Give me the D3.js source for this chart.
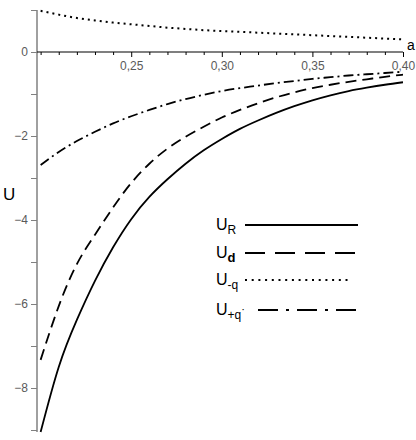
<!DOCTYPE html>
<html>
    <head>
        <script src="https://d3js.org/d3.v7.min.js"></script>
        <style>
            body { margin:0; background:white; font-family:"Liberation Sans", Arial, sans-serif; }
            svg { width:416px; height:440px; display:block; }
            .tickLabel { fill:#5a5a5a; font-size:12px; }
        </style>
    </head>
    <body>
        <svg></svg>
    </body>
    <script>
        // values, a = 0.20 .. 0.40
        const aValues = [0.20,0.21,0.22,0.23,0.24,0.25,0.26,0.27,0.28,0.29,0.30,
                         0.31,0.32,0.33,0.34,0.35,0.36,0.37,0.38,0.39,0.40];
        const uR  = [-9.05,-7.50,-6.38,-5.45,-4.65,-3.98,-3.45,-3.03,-2.66,-2.34,-2.07,
                     -1.83,-1.63,-1.45,-1.29,-1.15,-1.03,-0.93,-0.85,-0.78,-0.72];
        const uD  = [-7.33,-6.05,-5.05,-4.35,-3.70,-3.12,-2.66,-2.30,-2.02,-1.78,-1.56,
                     -1.38,-1.22,-1.08,-0.96,-0.86,-0.78,-0.71,-0.65,-0.59,-0.54];
        const uMq = [0.98,0.89,0.81,0.75,0.70,0.66,0.62,0.58,0.55,0.52,0.50,
                     0.48,0.46,0.44,0.42,0.40,0.38,0.36,0.34,0.32,0.30];
        const uPq = [-2.69,-2.38,-2.12,-1.90,-1.70,-1.53,-1.38,-1.24,-1.12,-1.02,-0.93,
                     -0.86,-0.80,-0.74,-0.69,-0.64,-0.60,-0.56,-0.53,-0.50,-0.47];
        const xMajor = [0.25,0.30,0.35,0.40];
        const xMinor = [0.20,0.21,0.22,0.23,0.24,0.26,0.27,0.28,0.29,0.31,0.32,0.33,0.34,0.36,0.37,0.38,0.39];
        const yTicks = [1,0,-1,-2,-3,-4,-5,-6,-7,-8,-9];
        const yLabels = [0,-2,-4,-6,-8];

        const series = [
            {name:'R',  values:uR,  dash:null,        legendDash:null},
            {name:'d',  values:uD,  dash:'11,6',      legendDash:'20,10'},
            {name:'-q', values:uMq, dash:'2,4',       legendDash:'2,4.7'},
            {name:'+q', values:uPq, dash:'10,4,2,4',  legendDash:'20,8,3,8'}
        ];

        const svg = d3.select('svg');
        const x = d3.scaleLinear().domain([0.198, 0.40]).range([37, 403]);
        const y = d3.scaleLinear().domain([1, -9]).range([10, 430]);

        // y axis (gray)
        svg.append('line')
            .attr('x1', x(0.198)).attr('x2', x(0.198))
            .attr('y1', y(1.0)).attr('y2', y(-9.05))
            .attr('stroke', '#808080').attr('stroke-width', 1.5);
        const yAxis = d3.axisLeft(y).tickValues(yTicks).tickSize(6)
            .tickFormat(d => yLabels.includes(d) ? String(d).replace('-', '\u2212') : '');
        const gy = svg.append('g').attr('transform', `translate(${x(0.198)},0)`).call(yAxis);
        gy.select('.domain').remove();
        gy.selectAll('line').attr('stroke', '#808080').attr('stroke-width', 1.2);
        gy.selectAll('text').attr('class', 'tickLabel').attr('x', -9);

        // x axis at U = 0
        const xAxisMinor = d3.axisBottom(x).tickValues(xMinor).tickSize(3).tickFormat('');
        const gxm = svg.append('g').attr('transform', `translate(0,${y(0)})`).call(xAxisMinor);
        gxm.select('.domain').remove();
        const xAxisMajor = d3.axisBottom(x).tickValues(xMajor).tickSize(5)
            .tickFormat(d => d3.format('.2f')(d).replace('.', ','));
        const gx = svg.append('g').attr('transform', `translate(0,${y(0)})`).call(xAxisMajor);
        gx.select('.domain').remove();
        gx.selectAll('text').attr('class', 'tickLabel').attr('y', 9);
        svg.append('line')
            .attr('x1', x(0.198)).attr('x2', x(0.40))
            .attr('y1', y(0)).attr('y2', y(0))
            .attr('stroke', 'black').attr('stroke-width', 1.2);
        svg.selectAll('.tick line').attr('stroke-width', 1);

        // axis labels
        svg.append('text').attr('x', 407).attr('y', 50)
            .style('font-size', '14px').text('a');
        svg.append('text').attr('x', 3).attr('y', 200)
            .style('font-size', '17px').text('U');

        // curves
        const line = d3.line()
            .x((d, i) => x(aValues[i]))
            .y(d => y(d))
            .curve(d3.curveNatural);
        series.forEach(s => {
            svg.append('path')
                .attr('d', line(s.values))
                .attr('fill', 'none')
                .attr('stroke', 'black')
                .attr('stroke-width', s.name === '-q' ? 2 : 1.8)
                .attr('stroke-dasharray', s.dash);
        });

        // legend
        const legendY = [225, 253, 280, 310];
        series.forEach((s, i) => {
            const t = svg.append('text').attr('x', 216).attr('y', legendY[i] + 5)
                .style('font-size', '16px');
            t.append('tspan').text('U');
            const sub = t.append('tspan').attr('dy', 4).style('font-size', '12px').text(s.name);
            if (s.name === 'd') sub.style('font-weight', 'bold').style('font-size', '13px');
            if (s.name === '+q') t.append('tspan').attr('dy', -6).style('font-size', '11px').text('\u00b7');
            const x1 = s.name === '+q' ? 258 : 245;
            const x2 = s.name === '-q' ? 352 : 358;
            svg.append('line')
                .attr('x1', x1).attr('x2', x2)
                .attr('y1', legendY[i]).attr('y2', legendY[i])
                .attr('stroke', 'black').attr('stroke-width', s.name === '-q' ? 2 : 1.8)
                .attr('stroke-dasharray', s.legendDash);
        });
    </script>
</html>
